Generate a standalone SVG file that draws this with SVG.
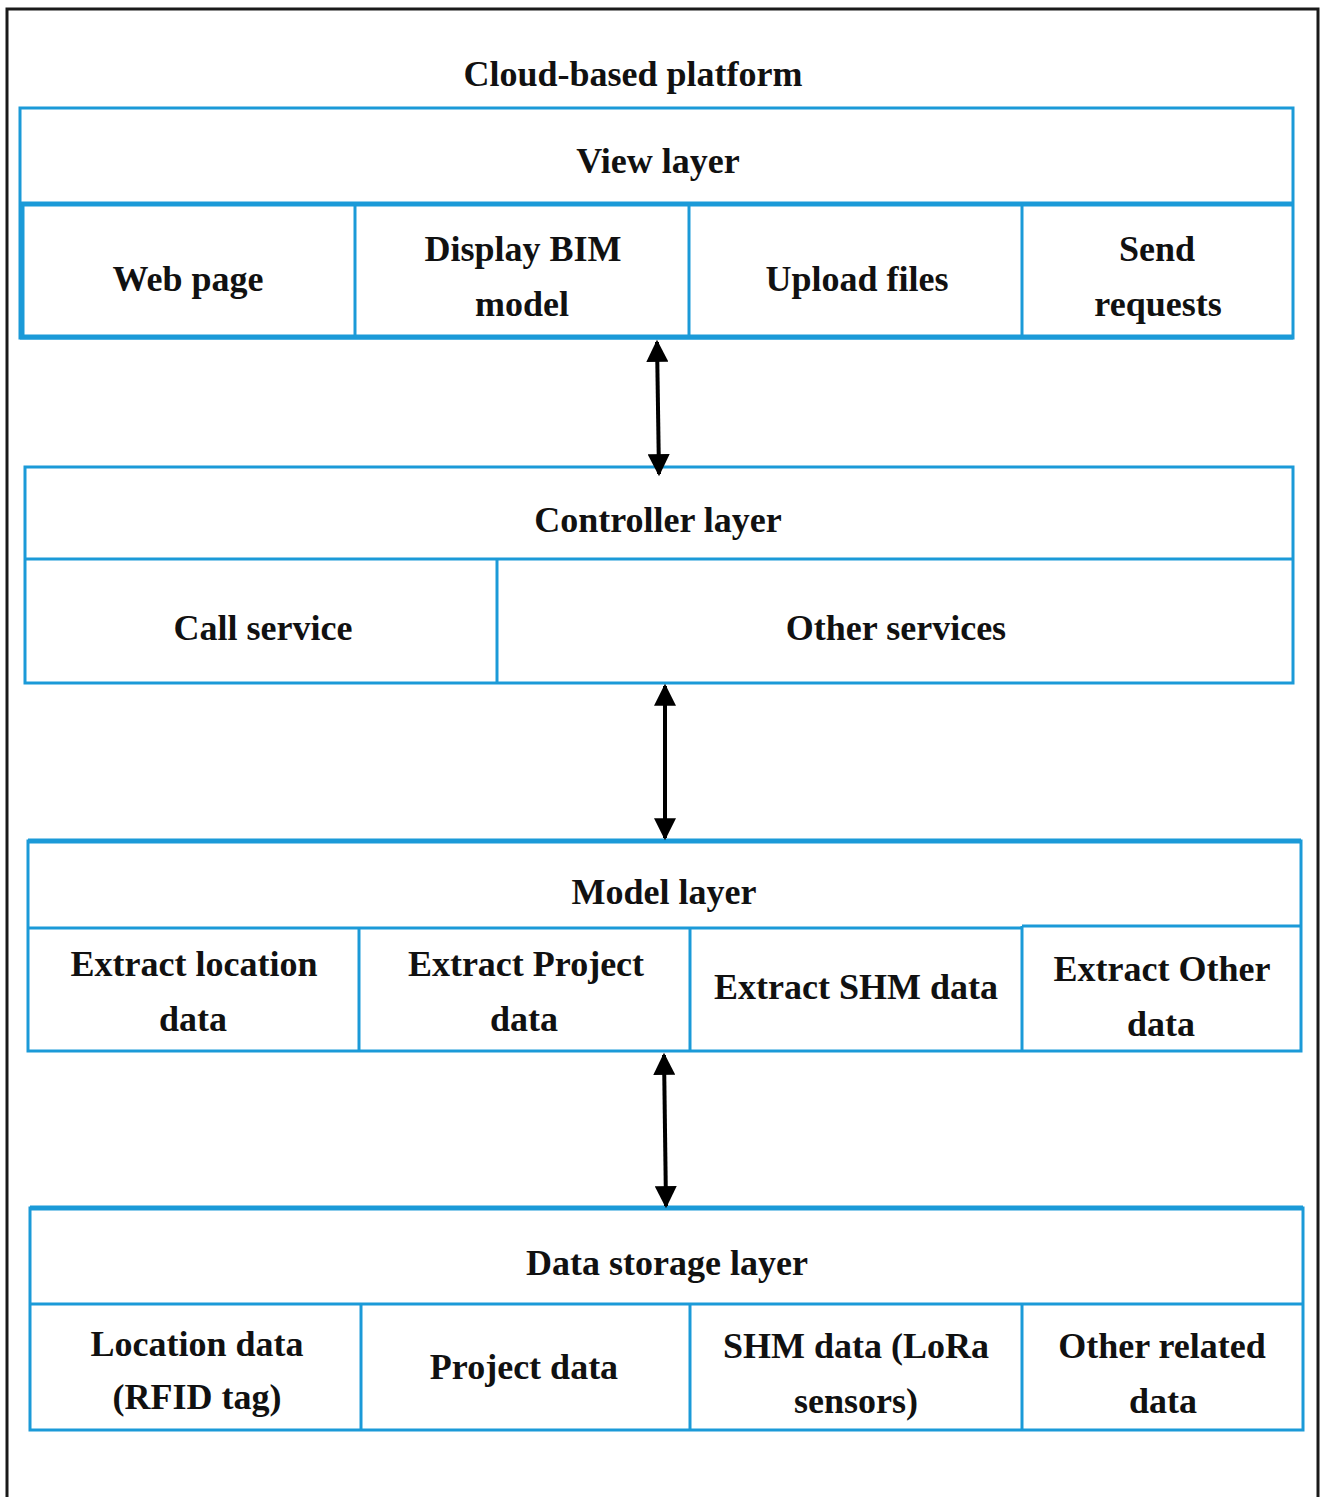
<svg xmlns="http://www.w3.org/2000/svg" width="1321" height="1497" viewBox="0 0 1321 1497">
<style>
.frame{fill:none;stroke:#1a1a1a;stroke-width:3}
.box{fill:#fff;stroke:#1b9ad8;stroke-width:3}
.ln{stroke:#1b9ad8;stroke-width:3;fill:none}
.thick{stroke-width:5}
text{font-family:"Liberation Serif","Times New Roman",serif;font-weight:bold;font-size:36px;fill:#111;text-anchor:middle}
.arr{stroke:#000;stroke-width:4;fill:none;marker-start:url(#ah);marker-end:url(#ah)}
</style>
<defs>
<marker id="ah" viewBox="0 0 10 10" refX="9" refY="5" markerWidth="6" markerHeight="5.5" orient="auto-start-reverse" markerUnits="strokeWidth">
<path d="M0,0 L10,5 L0,10 Z" fill="#000"/>
</marker>
</defs>
<rect width="1321" height="1497" fill="#fff"/>
<path class="frame" d="M7,1497 L7,9 L1318,9 L1318,1497"/>
<text x="633" y="86">Cloud-based platform</text>

<g id="view-layer">
<rect class="box" x="20" y="108" width="1273" height="230"/>
<line class="ln thick" x1="20" y1="204" x2="1293" y2="204"/>
<line class="ln thick" x1="20" y1="337" x2="1293" y2="337"/>
<line class="ln thick" x1="22" y1="204" x2="22" y2="338"/>
<line class="ln" x1="355" y1="204" x2="355" y2="338"/>
<line class="ln" x1="689" y1="204" x2="689" y2="338"/>
<line class="ln" x1="1022" y1="204" x2="1022" y2="338"/>
<text x="658" y="173">View layer</text>
<text x="188" y="291">Web page</text>
<text x="523" y="261">Display BIM</text>
<text x="522" y="316">model</text>
<text x="857" y="291">Upload files</text>
<text x="1157" y="261">Send</text>
<text x="1158" y="316">requests</text>
</g>

<g id="controller-layer">
<rect class="box" x="25" y="467" width="1268" height="216"/>
<line class="ln" x1="25" y1="559" x2="1293" y2="559"/>
<line class="ln" x1="497" y1="559" x2="497" y2="683"/>
<text x="658" y="532">Controller layer</text>
<text x="263" y="640">Call service</text>
<text x="896" y="640">Other services</text>
</g>

<g id="model-layer">
<rect class="box" x="28" y="841" width="1273" height="210"/>
<line class="ln thick" x1="28" y1="841" x2="1301" y2="841"/>
<line class="ln" x1="28" y1="928" x2="1022" y2="928"/>
<line class="ln" x1="1022" y1="926" x2="1301" y2="926"/>
<line class="ln" x1="359" y1="928" x2="359" y2="1051"/>
<line class="ln" x1="690" y1="928" x2="690" y2="1051"/>
<line class="ln" x1="1022" y1="926" x2="1022" y2="1051"/>
<text x="664" y="904">Model layer</text>
<text x="194" y="976">Extract location</text>
<text x="193" y="1031">data</text>
<text x="526" y="976">Extract Project</text>
<text x="524" y="1031">data</text>
<text x="856" y="999">Extract SHM data</text>
<text x="1162" y="981">Extract Other</text>
<text x="1161" y="1036">data</text>
</g>

<g id="data-storage-layer">
<rect class="box" x="30" y="1208" width="1273" height="222"/>
<line class="ln thick" x1="30" y1="1208" x2="1303" y2="1208"/>
<line class="ln" x1="30" y1="1304" x2="1303" y2="1304"/>
<line class="ln" x1="361" y1="1304" x2="361" y2="1430"/>
<line class="ln" x1="690" y1="1304" x2="690" y2="1430"/>
<line class="ln" x1="1022" y1="1304" x2="1022" y2="1430"/>
<text x="667" y="1275">Data storage layer</text>
<text x="197" y="1356">Location data</text>
<text x="197" y="1409">(RFID tag)</text>
<text x="524" y="1379">Project data</text>
<text x="856" y="1358">SHM data (LoRa</text>
<text x="856" y="1413">sensors)</text>
<text x="1162" y="1358">Other related</text>
<text x="1163" y="1413">data</text>
</g>

<g id="connectors">
<line class="arr" x1="657" y1="342" x2="659" y2="474"/>
<line class="arr" x1="665" y1="686" x2="665" y2="838"/>
<line class="arr" x1="664" y1="1055" x2="666" y2="1206"/>
</g>
</svg>
